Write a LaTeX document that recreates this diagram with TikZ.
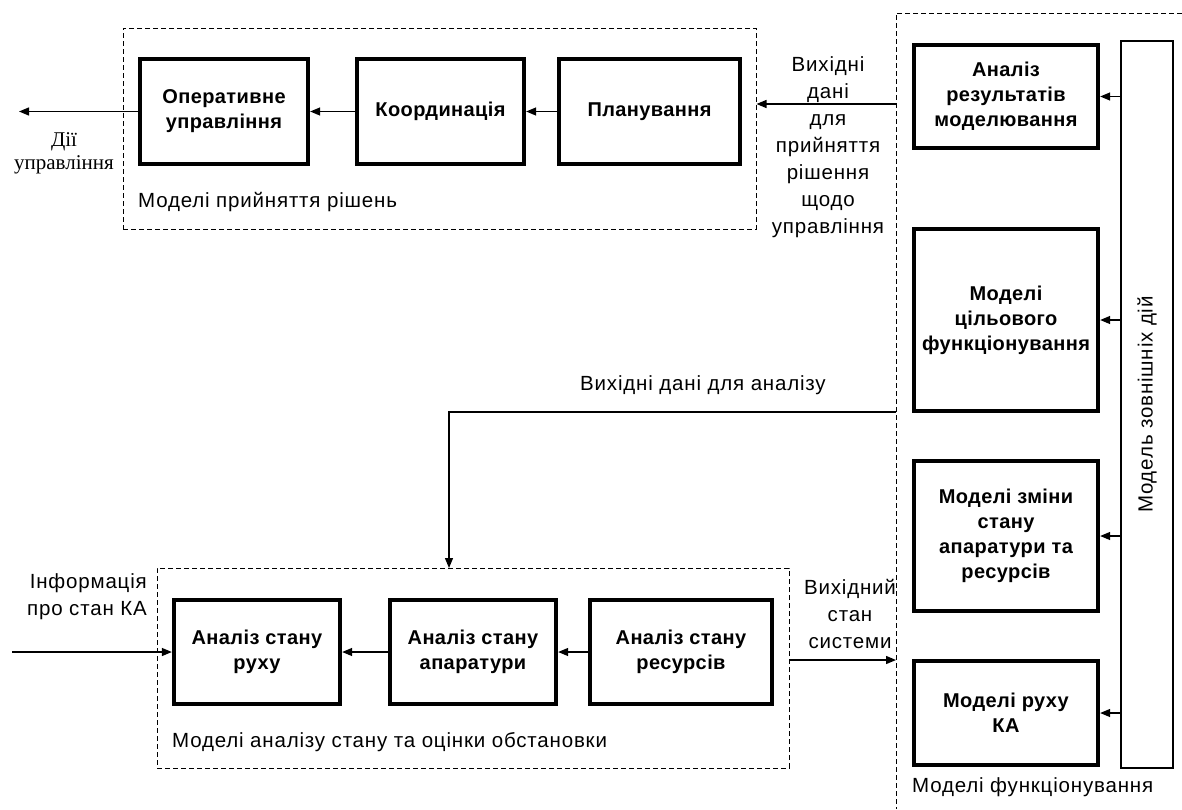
\documentclass[tikz,border=0pt]{standalone}
\usepackage{fontspec}
\setmainfont{Liberation Sans}
\newfontfamily\serifx{Liberation Serif}
\newfontfamily\lblfont[LetterSpace=4]{Liberation Sans}
\newfontfamily\boxfont[LetterSpace=2]{Liberation Sans Bold}
\usetikzlibrary{arrows.meta}
\tikzset{
  box/.style={draw, line width=4.3pt, align=center, font=\fontsize{20}{25}\selectfont\boxfont, inner sep=0pt},
  dbox/.style={draw, line width=1pt, dash pattern=on 5pt off 3pt},
  thin/.style={line width=1.3pt},
  arr/.style={line width=1.3pt, -{Triangle[length=10pt,width=8pt]}},
  lbl/.style={font=\fontsize{20.5}{27}\selectfont\lblfont, inner sep=0pt, align=center},
}
\begin{document}
\begin{tikzpicture}[x=1pt,y=-1pt]
\useasboundingbox (0,0) rectangle (1182,809);
% dashed group boxes
\node[dbox, minimum width=633pt, minimum height=201pt] (dm) at (439.5,128.5) {};
\node[dbox, minimum width=632pt, minimum height=200pt] (da) at (473,668) {};
\draw[dbox] (1182,13) -- (896,13) -- (896,809);
% top row
\node[box, minimum width=168pt, minimum height=105pt] (op) at (224,111.5) {Оперативне\\управління};
\node[box, minimum width=167pt, minimum height=105pt] (ko) at (440.5,111.5) {Координація};
\node[box, minimum width=181pt, minimum height=105pt] (pl) at (649.5,111.5) {Планування};
% bottom row
\node[box, minimum width=166pt, minimum height=104pt] (ra) at (257,652) {Аналіз стану\\руху};
\node[box, minimum width=166pt, minimum height=104pt] (ap) at (473,652) {Аналіз стану\\апаратури};
\node[box, minimum width=182pt, minimum height=104pt] (rs) at (681,652) {Аналіз стану\\ресурсів};
% right column
\node[box, minimum width=184pt, minimum height=103pt] (ar) at (1006,96.5) {Аналіз\\результатів\\моделювання};
\node[box, minimum width=184pt, minimum height=182pt] (mc) at (1006,320) {Моделі\\цільового\\функціонування};
\node[box, minimum width=184pt, minimum height=150pt] (mz) at (1006,536) {Моделі зміни\\стану\\апаратури та\\ресурсів};
\node[box, minimum width=184pt, minimum height=104pt] (mr) at (1006,713) {Моделі руху\\КА};
\node[draw, thin, minimum width=52pt, minimum height=727pt, inner sep=0pt] (ext) at (1147,404.5) {};
\node[lbl, rotate=90] (extl) at (ext.center) {Модель зовнішніх дій};
% arrows in right column
\foreach \b in {ar,mc,mz,mr} \draw[arr] (ext.west |- \b.east) -- (\b.east);
% top row arrows
\draw[arr] (ko.west) -- (op.east);
\draw[arr] (pl.west) -- (ko.east);
\coordinate (dout) at (19,110);
\draw[arr] (op.west) -- (op.west -| dout);
\coordinate (o1) at (896,104);
\draw[arr] (o1) -- (dm.east |- o1);
% bottom row arrows
\draw[arr] (ap.west) -- (ra.east);
\draw[arr] (rs.west) -- (ap.east);
\coordinate (din) at (12,652);
\draw[arr] (din) -- (ra.west);
\coordinate (o3) at (896,660);
\draw[arr] (da.east |- o3) -- (o3);
\coordinate (o2) at (896,412);
\coordinate (in2) at (449,568);
\draw[arr] (o2) -| (in2);
% labels
\node[lbl, font=\fontsize{21}{23}\selectfont\serifx] (t1) at (64,153) {Дії\\управління};
\node[lbl] (t2) at (828,147) {Вихідні\\дані\\для\\прийняття\\рішення\\щодо\\управління};
\node[lbl, anchor=base west] (t3) at (138,207) {Моделі прийняття рішень};
\node[lbl, anchor=base] (t4) at (703,390) {Вихідні дані для аналізу};
\node[lbl, align=right, anchor=base east] (t5) at (147,615) {Інформація\\про стан КА};
\node[lbl] (t6) at (850,614) {Вихідний\\стан\\системи};
\node[lbl, anchor=base west] (t7) at (172,747) {Моделі аналізу стану та оцінки обстановки};
\node[lbl, anchor=base west] (t8) at (912,792) {Моделі функціонування};
\end{tikzpicture}
\end{document}
